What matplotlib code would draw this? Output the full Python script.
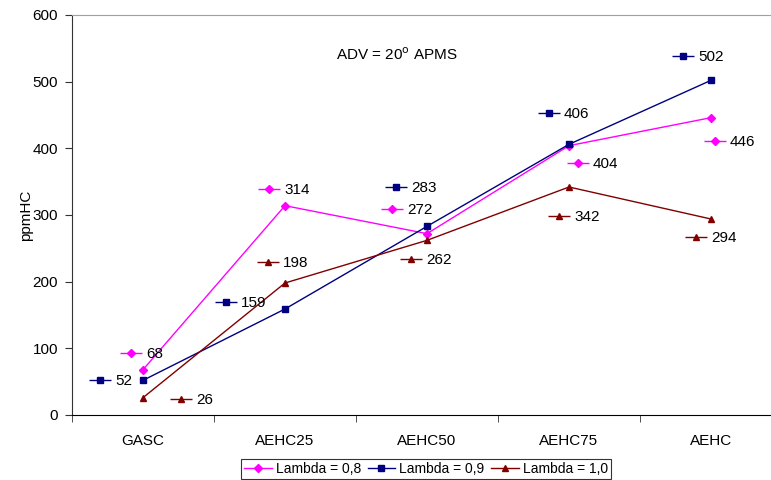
import matplotlib
matplotlib.use("Agg")
import matplotlib.pyplot as plt
from matplotlib.transforms import offset_copy

plt.rcParams['font.family'] = ['Liberation Sans', 'DejaVu Sans']
plt.rcParams['font.size'] = 11

categories = ["GASC", "AEHC25", "AEHC50", "AEHC75", "AEHC"]
lambda_08 = [68, 314, 272, 404, 446]
lambda_09 = [52, 159, 283, 406, 502]
lambda_10 = [26, 198, 262, 342, 294]
series_names = ["Lambda = 0,8", "Lambda = 0,9", "Lambda = 1,0"]
y_ticks = [0, 100, 200, 300, 400, 500, 600]

styles = [
    dict(color="#FF00FF", marker="D", ms=4.0),
    dict(color="#000080", marker="s", ms=4.5),
    dict(color="#800000", marker="^", ms=5.0),
]
# label key offsets (pixels) from each point, per series
label_offsets = [
    [(-12, 17), (-16, 17), (-35, 25), (9, -17), (4, -23)],
    [(-43, 0), (-59, 7), (-31, 39), (-20, 31), (-28, 24)],
    [(38, -1), (-17, 21), (-16, -19), (-10, -29), (-15, -18)],
]

W, H = 771, 480
fig = plt.figure(figsize=(W / 100, H / 100), dpi=100)
ax = fig.add_axes([72 / W, (480 - 415) / H, (782 - 72) / W, 400 / H])

xs = list(range(len(categories)))
all_series = [lambda_08, lambda_09, lambda_10]
handles = []
for vals, st, name, offs in zip(all_series, styles, series_names, label_offsets):
    h, = ax.plot(xs, vals, color=st["color"], lw=1.0, marker=st["marker"],
                 ms=st["ms"], mfc=st["color"], mec=st["color"], label=name,
                 clip_on=False)
    handles.append(h)
    for x, v, (dx, dy) in zip(xs, vals, offs):
        tr = offset_copy(ax.transData, fig=fig, x=dx, y=dy, units='dots')
        ax.plot([x], [v], transform=tr, marker="_", ms=16.5, mew=1.0,
                color=st["color"], clip_on=False)
        ax.plot([x], [v], transform=tr, marker=st["marker"], ms=st["ms"],
                color=st["color"], clip_on=False)
        tr_t = offset_copy(ax.transData, fig=fig, x=dx + 15, y=dy - 1, units='dots')
        ax.text(x, v, f"{v}", transform=tr_t, ha="left", va="center",
                fontsize=11, color="black")

ax.set_xlim(-0.5, len(categories) - 0.5)
ax.set_ylim(0, 600)
ax.set_yticks(y_ticks)
ax.set_xticks(xs)
ax.set_xticklabels(categories)
ax.set_xticks([i + 0.5 for i in range(-1, len(categories))], minor=True)
ax.tick_params(axis="x", which="major", length=0, pad=14, labelsize=11)
ax.tick_params(axis="x", which="minor", length=5, direction="out", color="#333333")
ax.tick_params(axis="y", length=5, direction="out", color="#333333", pad=5,
               labelsize=11)
ax.spines["right"].set_visible(False)
ax.spines["top"].set_color("#A0A0A0")
ax.spines["left"].set_color("#333333")
ax.spines["bottom"].set_color("#000000")
ax.set_ylabel("ppmHC", labelpad=0, fontsize=11)

ax.text(0.458, 0.9, r"ADV = 20$^{\mathrm{o}}$ APMS", transform=ax.transAxes,
        ha="center", va="center", fontsize=11)

leg = fig.legend(handles=handles, loc="center", ncol=3,
                 bbox_to_anchor=(426 / W, 1 - 469 / H), frameon=True,
                 fancybox=False, edgecolor="black", handlelength=2.0,
                 handletextpad=0.3, columnspacing=0.45, borderpad=0.2,
                 fontsize=10)
leg.get_frame().set_linewidth(0.8)

fig.savefig("out.png", dpi=100)
